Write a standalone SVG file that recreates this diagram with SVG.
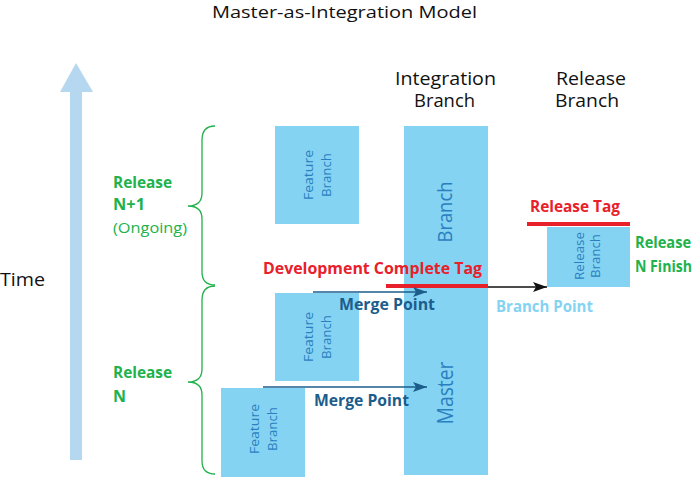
<svg xmlns="http://www.w3.org/2000/svg" width="699" height="477" viewBox="0 0 699 477">
<defs>
<style>
text{font-family:"Open Sans","Liberation Sans",sans-serif;}
.hdr{font-size:18px;fill:#111;}
.box{fill:#85d3f2;}
.btxt{fill:#2a7fc0;font-size:13px;text-anchor:middle;}
.green{fill:#21b24b;font-size:16px;font-weight:bold;}
.red{fill:#e8202a;font-size:16px;font-weight:bold;}
.merge{fill:#1c5d8c;font-size:16px;font-weight:bold;}
.brace{fill:none;stroke:#21b24b;stroke-width:1.3;}
</style>
<marker id="ab" viewBox="0 0 14 10" refX="14" refY="5" markerWidth="14" markerHeight="10" markerUnits="userSpaceOnUse" orient="auto"><path d="M0,0 L14,5 L0,10 L3,5 Z" fill="#1c5d8c"/></marker>
<marker id="ak" viewBox="0 0 14 10" refX="14" refY="5" markerWidth="14" markerHeight="10" markerUnits="userSpaceOnUse" orient="auto"><path d="M0,0 L14,5 L0,10 L3,5 Z" fill="#111"/></marker>
</defs>
<rect width="699" height="477" fill="#fff"/>
<text x="212" y="18" font-size="16.5" fill="#111" textLength="265" lengthAdjust="spacingAndGlyphs">Master-as-Integration Model</text>
<g id="time-axis">
<rect x="70" y="90" width="12" height="370" fill="#b5d7f0"/>
<path d="M60,92 L76,63 L93,92 Z" fill="#b5d7f0"/>
<text x="0" y="286" class="hdr" textLength="45" lengthAdjust="spacingAndGlyphs">Time</text>
</g>
<g id="headers">
<text x="395" y="85" class="hdr" textLength="101" lengthAdjust="spacingAndGlyphs">Integration</text>
<text x="414" y="107" class="hdr" textLength="61" lengthAdjust="spacingAndGlyphs">Branch</text>
<text x="556" y="85" class="hdr" textLength="70" lengthAdjust="spacingAndGlyphs">Release</text>
<text x="555" y="107" class="hdr" textLength="64" lengthAdjust="spacingAndGlyphs">Branch</text>
</g>
<g id="release-n1">
<path class="brace" d="M215,126 Q202,126 202,140 L202,193 Q202,206 188,206 Q202,206 202,219 L202,272 Q202,285 215,285"/>
<text x="113" y="188" class="green" textLength="59" lengthAdjust="spacingAndGlyphs">Release</text>
<text x="113" y="210" class="green" textLength="32" lengthAdjust="spacingAndGlyphs">N+1</text>
<text x="113" y="233" fill="#21b24b" font-size="15" textLength="74" lengthAdjust="spacingAndGlyphs">(Ongoing)</text>
</g>
<g id="release-n">
<path class="brace" d="M215,286 Q202,286 202,300 L202,369 Q202,382 188,382 Q202,382 202,395 L202,461 Q202,474 215,474"/>
<text x="113" y="378" class="green" textLength="59" lengthAdjust="spacingAndGlyphs">Release</text>
<text x="113" y="402" class="green">N</text>
</g>
<g id="feature-top">
<rect class="box" x="275" y="126" width="84" height="98"/>
<g transform="translate(317,175) rotate(-90)"><text class="btxt" y="-4.5" textLength="50" lengthAdjust="spacingAndGlyphs">Feature</text><text class="btxt" y="13.5" textLength="44" lengthAdjust="spacingAndGlyphs">Branch</text></g>
</g>
<g id="feature-mid">
<rect class="box" x="275" y="293" width="84" height="88"/>
<g transform="translate(317,337) rotate(-90)"><text class="btxt" y="-4.5" textLength="50" lengthAdjust="spacingAndGlyphs">Feature</text><text class="btxt" y="13.5" textLength="44" lengthAdjust="spacingAndGlyphs">Branch</text></g>
</g>
<g id="feature-bottom">
<rect class="box" x="221" y="388" width="84" height="89"/>
<g transform="translate(263,429) rotate(-90)"><text class="btxt" y="-4.5" textLength="50" lengthAdjust="spacingAndGlyphs">Feature</text><text class="btxt" y="13.5" textLength="44" lengthAdjust="spacingAndGlyphs">Branch</text></g>
</g>
<g id="integration">
<rect class="box" x="404" y="126" width="84" height="349"/>
<g transform="translate(445,212) rotate(-90)"><text fill="#2a7fc0" font-size="20" text-anchor="middle" y="7" textLength="61" lengthAdjust="spacingAndGlyphs">Branch</text></g>
<g transform="translate(445,393) rotate(-90)"><text fill="#2a7fc0" font-size="21" text-anchor="middle" y="7.5" textLength="63" lengthAdjust="spacingAndGlyphs">Master</text></g>
</g>
<g id="release-branch">
<rect class="box" x="547" y="227" width="83" height="60"/>
<g transform="translate(587,256) rotate(-90)"><text class="btxt" font-size="12" y="-3.5" textLength="48" lengthAdjust="spacingAndGlyphs">Release</text><text class="btxt" font-size="12" y="12.5" textLength="44" lengthAdjust="spacingAndGlyphs">Branch</text></g>
<text x="635" y="248" class="green" textLength="56" lengthAdjust="spacingAndGlyphs">Release</text>
<text x="635" y="272" class="green" textLength="57" lengthAdjust="spacingAndGlyphs">N Finish</text>
</g>
<g id="tags">
<line x1="386" y1="286" x2="488" y2="286" stroke="#e8202a" stroke-width="4"/>
<text x="263" y="274" class="red" textLength="219" lengthAdjust="spacingAndGlyphs">Development Complete Tag</text>
<line x1="527" y1="224" x2="630" y2="224" stroke="#e8202a" stroke-width="4"/>
<text x="530" y="212" class="red" textLength="90" lengthAdjust="spacingAndGlyphs">Release Tag</text>
</g>
<g id="connectors">
<line x1="488" y1="287" x2="547" y2="287" stroke="#111" stroke-width="1.5" marker-end="url(#ak)"/>
<line x1="313" y1="292" x2="427" y2="292" stroke="#1c5d8c" stroke-width="1.5" marker-end="url(#ab)"/>
<line x1="263" y1="387" x2="427" y2="387" stroke="#1c5d8c" stroke-width="1.5" marker-end="url(#ab)"/>
</g>
<g id="labels">
<text x="339" y="310" class="merge" textLength="96" lengthAdjust="spacingAndGlyphs">Merge Point</text>
<text x="314" y="406" class="merge" textLength="95" lengthAdjust="spacingAndGlyphs">Merge Point</text>
<text x="496" y="312" fill="#85d3f2" font-size="16" font-weight="bold" textLength="97" lengthAdjust="spacingAndGlyphs">Branch Point</text>
</g>
</svg>
